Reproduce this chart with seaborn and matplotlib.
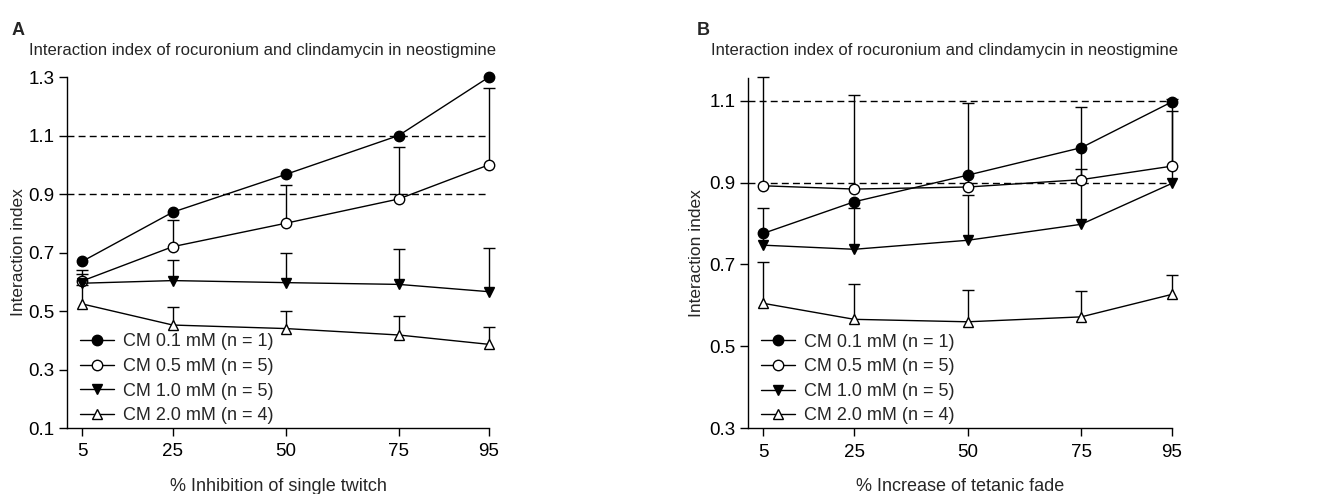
import matplotlib
matplotlib.use("Agg")
import matplotlib.pyplot as plt
import seaborn as sns
import pandas as pd

# x positions (% inhibition / % increase)
x_vals = [5, 25, 50, 75, 95]

series_labels = ["CM 0.1 mM (n = 1)", "CM 0.5 mM (n = 5)",
                 "CM 1.0 mM (n = 5)", "CM 2.0 mM (n = 4)"]

# Panel A: single twitch
a_cm01 = [0.67, 0.838, 0.967, 1.10, 1.30]
a_cm05 = [0.603, 0.72, 0.80, 0.883, 1.00]
a_cm10 = [0.595, 0.604, 0.597, 0.591, 0.566]
a_cm20 = [0.524, 0.452, 0.440, 0.418, 0.386]
a_cm05_up = [0.64, 0.811, 0.93, 1.06, 1.261]
a_cm10_up = [0.625, 0.674, 0.697, 0.711, 0.714]
a_cm20_up = [0.589, 0.515, 0.50, 0.483, 0.446]

# Panel B: tetanic fade
b_cm01 = [0.776, 0.853, 0.918, 0.985, 1.097]
b_cm05 = [0.892, 0.884, 0.889, 0.907, 0.940]
b_cm10 = [0.747, 0.737, 0.759, 0.798, 0.898]
b_cm20 = [0.605, 0.566, 0.560, 0.572, 0.627]
b_cm05_up = [1.158, 1.113, 1.094, 1.084, 1.105]
b_cm10_up = [0.837, 0.837, 0.869, 0.932, 1.074]
b_cm20_up = [0.705, 0.653, 0.637, 0.635, 0.674]

sns.set_style("ticks")
plt.rcParams['font.family'] = ['Liberation Sans', 'DejaVu Sans']

# marker style per series: (marker, facecolor)
styles = [("o", "black"), ("o", "white"), ("v", "black"), ("^", "white")]


def draw_panel(ax, means, uppers, ylim, yticks, xlabel, ylab_x):
    # upper-only error bars, drawn behind the lines
    for m, up in zip(means, uppers):
        if up is None:
            continue
        ax.vlines(x_vals, m, up, color="black", linewidth=1.0, zorder=2, clip_on=False)
        ax.scatter(x_vals, up, marker="_", s=80, color="black", linewidths=1.0,
                   zorder=2, clip_on=False)
    for ref in [0.9, 1.1]:
        ax.axhline(ref, color="black", linestyle=(0, (5, 3)), linewidth=1.0, zorder=1)
    for m, lab, (mk, fc) in zip(means, series_labels, styles):
        df = pd.DataFrame({"x": x_vals, "y": m})
        sns.lineplot(data=df, x="x", y="y", ax=ax, color="black", linewidth=1.0,
                     marker=mk, markersize=7.5, markerfacecolor=fc,
                     markeredgecolor="black", markeredgewidth=1.0, label=lab,
                     zorder=3, clip_on=False)
    ax.set_xlim(1.6, 95)
    ax.set_ylim(*ylim)
    ax.set_xticks(x_vals)
    ax.set_yticks(yticks)
    ax.set_yticklabels([f"{t:.1f}" for t in yticks])
    ax.tick_params(axis="both", labelsize=13.5, length=6, width=1.0, direction="out",
                   colors="black", pad=3)
    ax.tick_params(axis="x", pad=5)
    for s in ["top", "right"]:
        ax.spines[s].set_visible(False)
    for s in ["left", "bottom"]:
        ax.spines[s].set_linewidth(1.0)
        ax.spines[s].set_color("black")
    ax.set_xlabel(xlabel, fontsize=13)
    ax.xaxis.set_label_coords(0.5, -0.142)
    ax.set_ylabel("Interaction index", fontsize=12.5, va="center")
    ax.yaxis.set_label_coords(ylab_x, 0.5)
    ax.legend(loc="lower left", bbox_to_anchor=(0.0, -0.025), frameon=False,
              fontsize=13, handlelength=1.9, handletextpad=0.5,
              labelspacing=0.42, borderaxespad=0.3)


fig = plt.figure(figsize=(13.2, 4.94), dpi=100)
ax_a = fig.add_axes([0.0508, 0.1336, 0.3197, 0.7105])
ax_b = fig.add_axes([0.5667, 0.1330, 0.3212, 0.7090])

draw_panel(ax_a, [a_cm01, a_cm05, a_cm10, a_cm20],
           [None, a_cm05_up, a_cm10_up, a_cm20_up],
           (0.1, 1.3), [0.1, 0.3, 0.5, 0.7, 0.9, 1.1, 1.3],
           "% Inhibition of single twitch", -0.114)
draw_panel(ax_b, [b_cm01, b_cm05, b_cm10, b_cm20],
           [None, b_cm05_up, b_cm10_up, b_cm20_up],
           (0.3, 1.155), [0.3, 0.5, 0.7, 0.9, 1.1],
           "% Increase of tetanic fade", -0.122)

title = "Interaction index of rocuronium and clindamycin in neostigmine"
fig.text(29 / 1320, 1 - 55 / 494, title, fontsize=12, va="baseline", ha="left")
fig.text(711 / 1320, 1 - 55 / 494, title, fontsize=12, va="baseline", ha="left")
fig.text(12 / 1320, 1 - 35 / 494, "A", fontsize=13, fontweight="bold", va="baseline")
fig.text(697 / 1320, 1 - 35 / 494, "B", fontsize=13, fontweight="bold", va="baseline")

fig.savefig("out.png", dpi=100)
